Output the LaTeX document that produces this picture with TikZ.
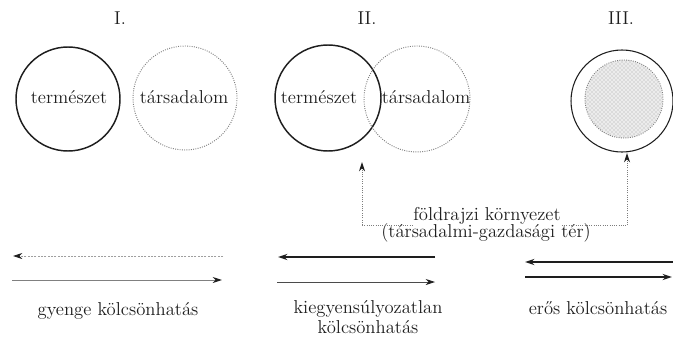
\documentclass[tikz,border=0pt]{standalone}
\usepackage{tikz}
\usetikzlibrary{arrows.meta,patterns}
\definecolor{sotet}{RGB}{30, 30, 30}
\definecolor{szurke}{RGB}{125, 125, 125}

\tikzset{
  felirat/.style={font=\fontsize{14}{16}\selectfont, inner sep=0.75pt, text=sotet},
  termkor/.style={draw=sotet, line width=1.1},
  tarskor/.style={draw=szurke, densely dotted, line width=0.7},
  hegy/.style={-{Stealth[length=7pt, width=4.5pt, color=sotet]}},
  keret/.style={draw=szurke, densely dotted, line width=0.7}
}

\begin{document}
\begin{tikzpicture}[x=0.75pt,y=0.75pt,yscale=-1,xscale=1]
\useasboundingbox (0,0) rectangle (673,336);

% Text Node
\draw (120,24) node [felirat, anchor=base] (rI) {I.};
% Text Node
\draw (367,24) node [felirat, anchor=base] (rII) {II.};
% Text Node
\draw (621,24) node [felirat, anchor=base] (rIII) {III.};

%Shape: Circle [I. termeszet]
\draw [termkor] (68,99) circle (52);
%Shape: Circle [I. tarsadalom]
\draw [tarskor] (185,98) circle (52);
%Shape: Circle [II. termeszet]
\draw [termkor] (328,98) circle (53);
%Shape: Circle [II. tarsadalom]
\draw [tarskor] (417,99) circle (53);
%Shape: Circle [III. kulso]
\draw [termkor, line width=0.8] (622,101) circle (51);
%Shape: Circle [III. belso]
\draw [tarskor, fill=gray!15] (624,99) circle (39);
\fill [pattern=crosshatch dots, pattern color=gray!70] (624,99) circle (38);

% Text Node
\draw (69,103) node [felirat, anchor=base] (termI) {természet};
% Text Node
\draw (184,103) node [felirat, anchor=base] (tarsI) {társadalom};
% Text Node
\draw (319,103) node [felirat, anchor=base] (termII) {természet};
% Text Node
\draw (426,103) node [felirat, anchor=base] (tarsII) {társadalom};

% Text Node
\draw (487,220) node [felirat, anchor=base] (kornyezet) {földrajzi környezet};
% Text Node
\draw (486,237) node [felirat, anchor=base] (ter) {(társadalmi-gazdasági tér)};

\coordinate (balalj) at (362,225);
\coordinate (jobbalj) at (627,225);
\coordinate (hegyII) at (362,162);
\coordinate (hegyIII) at (627,153);

%Straight Lines [keret]
\draw [keret, hegy] (balalj) -- (hegyII);
\draw [keret] (balalj) -- (balalj -| kornyezet.west);
\draw [keret] (jobbalj -| kornyezet.east) -- (jobbalj);
\draw [keret, hegy] (jobbalj) -- (hegyIII);

% gyenge
\coordinate (gyA) at (223,256);
\coordinate (gyB) at (13,256);
\coordinate (gyC) at (12,280);
\coordinate (gyD) at (222,280);
\draw [hegy, draw=gray!75, dash pattern=on 1.5pt off 1pt, line width=0.6] (gyA) -- (gyB);
\draw [hegy, draw=gray, line width=0.7] (gyC) -- (gyD);

% kiegyensulyozatlan
\coordinate (kiA) at (435,257);
\coordinate (kiB) at (278,257);
\coordinate (kiC) at (277,282);
\coordinate (kiD) at (435,282);
\draw [hegy, draw=sotet, line width=1.5] (kiA) -- (kiB);
\draw [hegy, draw=sotet!80, line width=0.6] (kiC) -- (kiD);

% eros
\coordinate (erA) at (673,262);
\coordinate (erB) at (525,262);
\coordinate (erC) at (525,277);
\coordinate (erD) at (672,277);
\draw [hegy, draw=sotet, line width=1.5] (erA) -- (erB);
\draw [hegy, draw=sotet, line width=1.5] (erC) -- (erD);

% Text Node
\draw (118,315) node [felirat, anchor=base] (gyenge) {gyenge kölcsönhatás};
% Text Node
\draw (368,313) node [felirat, anchor=base] (kiegy) {kiegyensúlyozatlan};
% Text Node
\draw (368,333) node [felirat, anchor=base] (kiegy2) {kölcsönhatás};
% Text Node
\draw (598,314) node [felirat, anchor=base] (eros) {erős kölcsönhatás};

\end{tikzpicture}
\end{document}
